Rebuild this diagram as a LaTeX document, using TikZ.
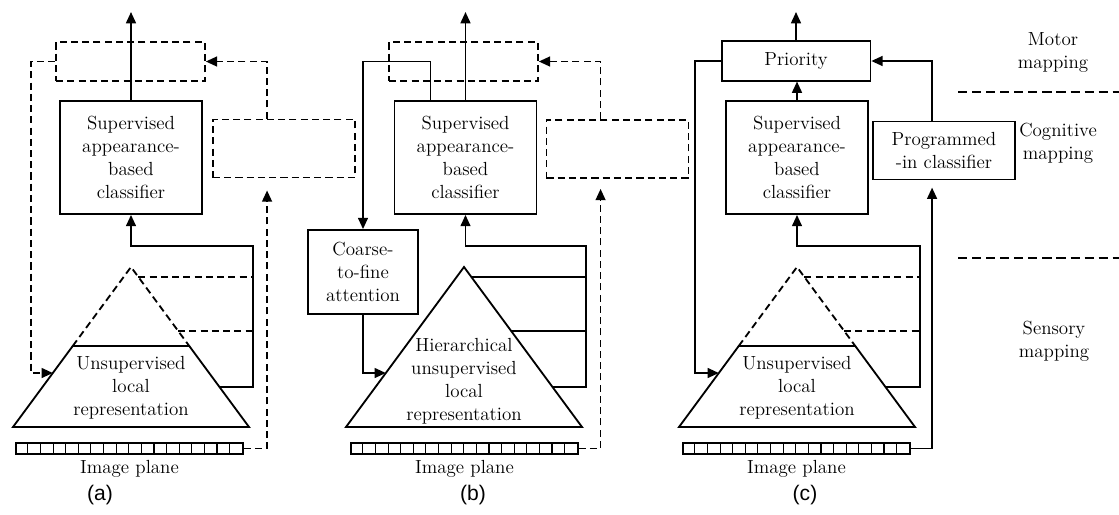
\documentclass[tikz,border=0pt]{standalone}
\usepackage{tikz}
\usepackage{xcolor}
\usepackage{fontspec}
\setsansfont{Liberation Sans}
\usetikzlibrary{arrows.meta,calc}
\tikzstyle{lbl} = [font=\fontsize{13.5}{16.4}\selectfont,align=center,inner sep=0pt]
\tikzstyle{classbox} = [lbl,draw,line width=1.3pt,minimum width=3.55cm,
  minimum height=2.825cm]
\tikzstyle{topbox} = [lbl,draw,line width=1.3pt,minimum width=3.72cm,
  minimum height=0.98cm]
\tikzstyle{sidebox} = [lbl,draw,line width=1.3pt,minimum width=3.55cm,
  minimum height=1.45cm]
\tikzstyle{ghost} = [dash pattern=on 5pt off 3pt]
\tikzstyle{plane} = [draw,line width=1pt,minimum width=5.675cm,
  minimum height=0.275cm,inner sep=0pt]
\tikzstyle{link} = [line width=1.3pt]
\tikzstyle{arr} = [link,-{Triangle[length=8pt,width=7pt]}]
\tikzstyle{darr} = [arr,ghost]
\tikzstyle{dline} = [link,ghost]
\tikzstyle{sep} = [line width=1.6pt,dash pattern=on 6.5pt off 3.5pt]
\tikzstyle{caption} = [font=\sffamily\fontsize{15}{18}\selectfont,inner sep=0pt]

\begin{document}
\begin{tikzpicture}[x=0.025cm,y=-0.025cm]
  \useasboundingbox (0,0) rectangle (1119,514);
  % image planes
  \foreach \n/\x in {A/129.5,B/464.5,C/796.5} {
    \node[plane] (img\n) at (\x,448.5) {};
    \foreach \i in {1,...,17}
      \draw[line width=0.8pt] ($(img\n.west)+(\i*12.61,-5.5)$) -- ++(0,11);
    \node[lbl] (cap\n) at (\x,469) {Image plane};
  }

  % (a)
  \node[topbox,ghost] (motorA) at (130.5,61.5) {};
  \node[classbox] (clsA) at (131,157.5) {Supervised\\appearance-\\based\\classifier};
  \node[sidebox,ghost] (cogA) at (284,148.5) {};
  \coordinate (apA) at (131,267);
  \coordinate (blA) at (13,427);
  \coordinate (brA) at (249,427);
  \draw[dline] ($(apA)!0.494!(blA)$) -- (apA) -- ($(apA)!0.494!(brA)$);
  \draw[link] ($(apA)!0.494!(blA)$) -- (blA) -- (brA) -- ($(apA)!0.494!(brA)$) -- cycle;
  \node[lbl] (repA) at (131,388) {Unsupervised\\local\\representation};
  \coordinate (trA1) at ($(apA)!0.0625!(brA)$);
  \coordinate (trA2) at ($(apA)!0.4!(brA)$);
  \coordinate (trA3) at ($(apA)!0.75!(brA)$);
  \coordinate (tlA) at ($(apA)!0.6625!(blA)$);
  \coordinate (busA) at (253,246);
  \coordinate (outA) at (131,12);
  \draw[arr] (clsA.north) -- (outA);
  \draw[arr] (trA3) -| (busA) -| (clsA.south);
  \draw[dline] (trA1) -- (trA1 -| busA);
  \draw[dline] (trA2) -- (trA2 -| busA);
  \draw[darr] (cogA.north west) ++(55,0) |- (motorA.east);
  \draw[darr] (motorA.west) -- ++(-24,0) |- (tlA);
  \draw[darr,shorten >=0.3cm] (imgA.east) -| ($(cogA.south west)+(55,0)$);
  \node[caption] (labA) at (100,495) {(a)};

  % (b)
  \node[topbox,ghost] (motorB) at (463.5,61.5) {};
  \node[classbox] (clsB) at (465.5,157.5) {Supervised\\appearance-\\based\\classifier};
  \node[sidebox,ghost] (cogB) at (617.5,149) {};
  \node[lbl,draw,link,minimum width=2.75cm,minimum height=2.1cm] (coarse)
    at (363,272) {Coarse-\\to-fine\\attention};
  \coordinate (apB) at (464,267);
  \coordinate (blB) at (346,427);
  \coordinate (brB) at (582,427);
  \draw[link] (apB) -- (blB) -- (brB) -- cycle;
  \node[lbl] (repB) at (464,381.5) {Hierarchical\\unsupervised\\local\\representation};
  \coordinate (trB1) at ($(apB)!0.0625!(brB)$);
  \coordinate (trB2) at ($(apB)!0.4!(brB)$);
  \coordinate (trB3) at ($(apB)!0.75!(brB)$);
  \coordinate (tlB) at ($(apB)!0.6625!(blB)$);
  \coordinate (busB) at (586,246);
  \coordinate (outB) at (465.5,12);
  \draw[arr] (clsB.north) -- (outB);
  \draw[arr] (trB3) -| (busB) -| (clsB.south);
  \draw[link] (trB1) -- (trB1 -| busB);
  \draw[link] (trB2) -- (trB2 -| busB);
  \draw[arr] (clsB.north west) ++(37,0) |- (coarse.north |- motorB.west) -- (coarse.north);
  \draw[arr] (coarse.south) |- (tlB);
  \draw[darr] (cogB.north west) ++(55,0) |- (motorB.east);
  \draw[darr,shorten >=0.25cm] (imgB.east) -| ($(cogB.south west)+(55,0)$);
  \node[caption] (labB) at (473,495) {(b)};

  % (c)
  \node[topbox] (prio) at (796,61) {Priority};
  \node[classbox] (clsC) at (797,157.5) {Supervised\\appearance-\\based\\classifier};
  \node[sidebox] (prog) at (944,150.5) {Programmed\\-in classifier};
  \coordinate (apC) at (797,267);
  \coordinate (blC) at (679,427);
  \coordinate (brC) at (915,427);
  \draw[dline] ($(apC)!0.494!(blC)$) -- (apC) -- ($(apC)!0.494!(brC)$);
  \draw[link] ($(apC)!0.494!(blC)$) -- (blC) -- (brC) -- ($(apC)!0.494!(brC)$) -- cycle;
  \node[lbl] (repC) at (797,388) {Unsupervised\\local\\representation};
  \coordinate (trC1) at ($(apC)!0.0625!(brC)$);
  \coordinate (trC2) at ($(apC)!0.4!(brC)$);
  \coordinate (trC3) at ($(apC)!0.75!(brC)$);
  \coordinate (tlC) at ($(apC)!0.6625!(blC)$);
  \coordinate (busC) at (920,246);
  \coordinate (outC) at (796,12);
  \draw[arr] (prio.north) -- (outC);
  \draw[arr] (clsC.north) -- (clsC.north |- prio.south);
  \draw[arr] (trC3) -| (busC) -| (clsC.south);
  \draw[dline] (trC1) -- (trC1 -| busC);
  \draw[dline] (trC2) -- (trC2 -| busC);
  \draw[arr] (prog.north west) ++(60,0) |- (prio.east);
  \draw[arr] (prio.west) -- ++(-26,0) |- (tlC);
  \draw[arr,shorten >=0.18cm] (imgC.east) -| ($(prog.south west)+(60,0)$);
  \node[caption] (labC) at (805,495) {(c)};

  % mapping levels
  \node[lbl] (motor) at (1053,52) {Motor\\mapping};
  \node[lbl] (cogn) at (1058,143) {Cognitive\\mapping};
  \node[lbl] (sens) at (1054,341) {Sensory\\mapping};
  \draw[sep] (958,92) -- (1119,92);
  \draw[sep] (958,258) -- (1119,258);
\end{tikzpicture}
\end{document}
